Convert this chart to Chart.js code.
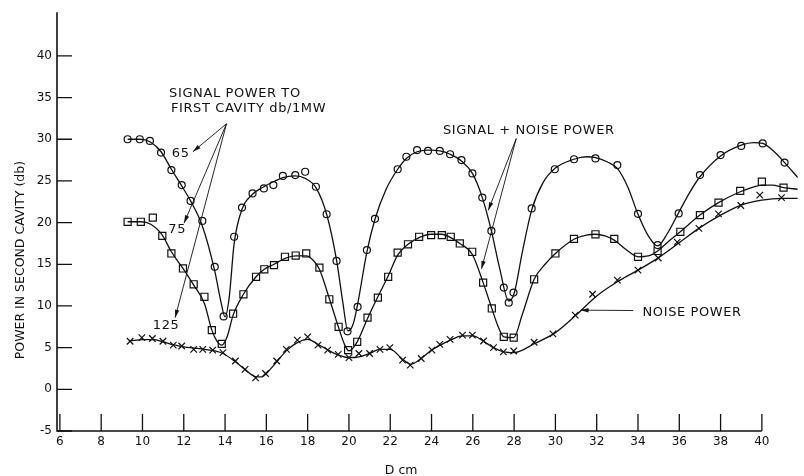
<!DOCTYPE html>
<html>
<head>
<meta charset="utf-8">
<script src="https://cdn.jsdelivr.net/npm/chart.js@4.4.1/dist/chart.umd.min.js"></script>
<style>
html,body{margin:0;padding:0;background:#fff;}
#wrap{width:804px;height:476px;position:relative;}
</style>
</head>
<body>
<div id="wrap"><canvas id="c"></canvas></div>
<script>
// ---- tick labels ----
const xTicks = [6,8,10,12,14,16,18,20,22,24,26,28,30,32,34,36,38,40];
const yTicks = [-5,0,5,10,15,20,25,30,35,40];

// ---- measured points: signal power 65 db/1MW (circles) ----
const s65X = [9.28,9.87,10.36,10.9,11.4,11.9,12.33,12.9,13.5,13.93,14.44,14.82,15.33,15.88,16.34,16.8,17.4,17.88,18.4,18.92,19.4,19.93,20.42,20.87,21.26,22.36,22.78,23.3,23.83,24.4,24.9,25.45,25.98,26.46,26.9,27.5,27.74,27.97,28.85,29.97,30.9,31.94,33.0,34.0,34.95,35.97,37.0,38.0,39.0,40.04,41.1];
const s65Y = [30.0,30.0,29.8,28.4,26.3,24.5,22.6,20.2,14.7,8.75,18.3,21.8,23.5,24.1,24.5,25.6,25.7,26.1,24.3,21.0,15.4,6.96,9.9,16.7,20.45,26.4,27.9,28.7,28.6,28.6,28.2,27.5,25.9,23.0,19.0,12.2,10.4,11.6,21.7,26.4,27.6,27.7,26.9,21.05,17.3,21.1,25.7,28.1,29.2,29.5,27.2];

// ---- measured points: signal power 75 (squares) ----
const s75X = [9.28,9.92,10.5,10.96,11.4,11.96,12.48,13.0,13.36,13.84,14.39,14.89,15.5,15.9,16.37,16.9,17.42,17.93,18.57,19.05,19.5,19.96,20.4,20.9,21.4,21.9,22.36,22.86,23.4,23.98,24.5,24.93,25.37,25.97,26.5,26.92,27.5,27.98,28.97,30.0,30.9,31.94,32.85,34.0,34.95,36.05,37.0,37.9,38.95,40.0,41.05];
const s75Y = [20.1,20.1,20.6,18.4,16.3,14.5,12.6,11.1,7.1,5.45,9.07,11.4,13.5,14.4,14.9,15.9,16.05,16.3,14.6,10.8,7.5,4.7,5.7,8.6,11.0,13.5,16.4,17.4,18.3,18.5,18.5,18.3,17.5,16.5,12.8,9.7,6.3,6.2,13.2,16.3,18.05,18.6,18.05,15.9,16.6,18.9,20.9,22.4,23.8,24.9,24.2];

// ---- measured points: noise power (crosses) ----
const nX = [9.4,9.97,10.48,10.99,11.49,11.9,12.48,12.92,13.4,13.9,14.5,14.97,15.48,15.96,16.5,16.97,17.5,18.0,18.5,18.97,19.48,20.0,20.48,21.0,21.5,21.98,22.6,22.97,23.5,24.02,24.4,24.9,25.5,25.98,26.52,27.0,27.48,27.98,28.97,29.88,30.96,31.8,33.0,34.0,34.98,35.9,36.95,37.9,38.98,39.9,40.95];
const nY = [5.77,6.2,6.1,5.77,5.3,5.2,4.8,4.8,4.7,4.4,3.4,2.4,1.37,1.9,3.4,4.8,5.9,6.3,5.3,4.7,4.2,3.8,4.3,4.3,4.8,5.0,3.5,2.9,3.7,4.7,5.4,6.0,6.5,6.5,5.8,5.0,4.5,4.6,5.65,6.65,8.9,11.4,13.1,14.3,15.75,17.65,19.3,21.05,22.05,23.3,23.0];

// ---- drawn smooth curves ----
const c65X = [9.28,9.87,10.36,10.9,11.4,11.9,12.33,12.9,13.5,13.8,14.0,14.2,14.44,14.82,15.33,15.88,16.34,16.8,17.4,17.88,18.4,18.92,19.4,19.7,19.95,20.2,20.42,20.87,21.26,21.8,22.36,22.78,23.3,23.83,24.4,24.9,25.45,25.98,26.46,26.9,27.3,27.74,28.0,28.4,28.85,29.4,29.97,30.9,31.5,31.94,32.5,33.0,33.5,34.0,34.5,34.95,35.4,35.97,36.5,37.0,38.0,39.0,39.6,40.04,40.6,41.1,41.74];
const c65Y = [30.0,30.0,29.7,28.5,26.4,24.4,22.6,19.6,14.2,10.5,8.7,11.0,17.5,21.6,23.4,24.3,24.9,25.4,25.6,25.3,24.2,21.0,15.5,10.5,7.0,7.8,10.2,16.5,20.4,24.0,26.4,27.7,28.5,28.7,28.6,28.2,27.4,25.9,23.0,19.0,14.5,10.6,11.5,16.5,21.5,24.8,26.5,27.6,27.9,27.8,27.3,26.5,24.3,21.0,18.4,17.2,18.6,21.2,23.6,25.5,28.0,29.3,29.6,29.5,28.5,27.2,25.4];
const c75X = [9.28,9.92,10.4,10.96,11.4,11.96,12.48,13.0,13.36,13.6,13.84,14.1,14.39,14.89,15.5,15.9,16.37,16.9,17.42,17.93,18.3,18.57,19.05,19.5,19.8,20.0,20.4,20.9,21.4,21.9,22.36,22.86,23.4,23.98,24.5,24.93,25.37,25.97,26.5,26.92,27.2,27.5,27.98,28.4,28.97,29.5,30.0,30.9,31.5,31.94,32.4,32.85,33.4,34.0,34.5,34.95,35.5,36.05,37.0,37.9,38.95,39.5,40.0,40.5,41.05,41.74];
const c75Y = [20.1,20.1,19.8,18.5,16.5,14.5,12.5,10.3,7.1,5.8,5.3,6.3,8.9,11.4,13.5,14.4,15.0,15.7,16.0,16.0,15.4,14.4,10.9,7.4,5.3,4.6,5.7,8.5,11.1,13.6,16.1,17.4,18.2,18.6,18.6,18.2,17.5,16.2,12.8,9.7,7.7,6.3,6.2,9.0,13.2,15.0,16.3,18.0,18.5,18.6,18.4,17.9,16.8,15.9,16.0,16.6,17.8,18.9,20.9,22.4,23.7,24.2,24.5,24.5,24.2,24.0];
const cNX = [9.4,10.0,10.5,11.0,11.5,12.0,12.5,13.0,13.5,13.9,14.5,15.0,15.5,15.8,16.0,16.5,17.0,17.5,18.0,18.5,19.0,19.5,20.0,20.5,21.0,21.5,22.0,22.6,23.0,23.5,24.0,24.5,25.0,25.5,26.0,26.5,27.0,27.5,28.0,29.0,30.0,31.0,32.0,33.0,34.0,35.0,36.0,37.0,38.0,39.0,40.0,41.0,41.74];
const cNY = [5.8,5.95,5.95,5.7,5.35,5.1,4.95,4.8,4.6,4.3,3.3,2.3,1.5,1.5,1.9,3.3,4.7,5.6,6.0,5.4,4.7,4.1,3.8,3.9,4.3,4.8,4.8,3.6,3.0,3.7,4.7,5.4,6.0,6.4,6.4,5.8,5.0,4.5,4.4,5.5,6.8,8.9,11.2,12.9,14.3,15.8,17.6,19.4,20.9,22.1,22.7,22.9,22.9];

// ---- annotations (anchors in data units) ----
const notes = [
  {t:'SIGNAL POWER TO', x:11.29, y:35.5},
  {t:'FIRST CAVITY db/1MW', x:11.38, y:33.7},
  {t:'65', x:11.42, y:28.3},
  {t:'75', x:11.25, y:19.2},
  {t:'125', x:10.5, y:7.6},
  {t:'SIGNAL + NOISE POWER', x:24.55, y:31.09},
  {t:'NOISE POWER', x:34.22, y:9.25}
];
const arrows = [
  {x0:14.07, y0:31.86, x1:12.44, y1:28.5},
  {x0:14.07, y0:31.86, x1:12.01, y1:19.93},
  {x0:14.07, y0:31.86, x1:11.58, y1:8.59},
  {x0:28.1, y0:30.07, x1:26.75, y1:21.48},
  {x0:28.1, y0:30.07, x1:26.42, y1:14.44},
  {x0:33.77, y0:9.45, x1:31.22, y1:9.5}
];
const yTitle = {t:'POWER IN SECOND CAVITY (db)', y:15.5};
const xTitle = {t:'D cm', x:22.53};

const pts = (xs, ys) => xs.map((x, i) => ({x: x, y: ys[i]}));
const INK = '#111';
const FONT = '"DejaVu Sans", sans-serif';

const curve = (xs, ys) => ({
  data: pts(xs, ys), showLine: true, pointRadius: 0, borderColor: INK,
  borderWidth: 1.3, cubicInterpolationMode: 'monotone', fill: false
});
const marks = (xs, ys, style, r) => ({
  data: pts(xs, ys), showLine: false, pointStyle: style, pointRadius: r,
  pointBorderColor: INK, pointBackgroundColor: '#fff', pointBorderWidth: 1.2
});

const decor = {
  id: 'decor',
  afterDatasetsDraw(chart) {
    const ctx = chart.ctx, xs = chart.scales.x, ys = chart.scales.y;
    const ca = chart.chartArea;
    ctx.save();
    ctx.strokeStyle = INK; ctx.fillStyle = INK;
    // axis lines
    ctx.lineWidth = 1.6;
    ctx.beginPath();
    ctx.moveTo(ca.left, ca.top); ctx.lineTo(ca.left, ca.bottom);
    ctx.lineTo(xs.getPixelForValue(xTicks[xTicks.length-1]), ca.bottom);
    ctx.stroke();
    // inward ticks
    ctx.lineWidth = 1.3;
    ctx.beginPath();
    yTicks.forEach(v => { const p = ys.getPixelForValue(v); ctx.moveTo(ca.left, p); ctx.lineTo(ca.left + 15, p); });
    xTicks.forEach(v => { const p = xs.getPixelForValue(v); ctx.moveTo(p, ca.bottom); ctx.lineTo(p, ca.bottom - 17); });
    ctx.stroke();
    // annotations
    ctx.font = '13px ' + FONT;
    ctx.letterSpacing = '0.6px';
    ctx.textBaseline = 'middle'; ctx.textAlign = 'left';
    notes.forEach(n => ctx.fillText(n.t, xs.getPixelForValue(n.x), ys.getPixelForValue(n.y)));
    ctx.letterSpacing = '0px';
    ctx.lineWidth = 0.9;
    arrows.forEach(a => {
      const x0 = xs.getPixelForValue(a.x0), y0 = ys.getPixelForValue(a.y0);
      const x1 = xs.getPixelForValue(a.x1), y1 = ys.getPixelForValue(a.y1);
      ctx.beginPath(); ctx.moveTo(x0, y0); ctx.lineTo(x1, y1); ctx.stroke();
      const ang = Math.atan2(y1 - y0, x1 - x0), L = 8, W = 2.2;
      ctx.beginPath();
      ctx.moveTo(x1, y1);
      ctx.lineTo(x1 - L*Math.cos(ang) + W*Math.sin(ang), y1 - L*Math.sin(ang) - W*Math.cos(ang));
      ctx.lineTo(x1 - L*Math.cos(ang) - W*Math.sin(ang), y1 - L*Math.sin(ang) + W*Math.cos(ang));
      ctx.closePath(); ctx.fill();
    });
    // axis titles
    ctx.font = '12.5px ' + FONT;
    ctx.textAlign = 'center';
    ctx.fillText(xTitle.t, xs.getPixelForValue(xTitle.x), ca.bottom + 40);
    ctx.translate(ca.left - 36, ys.getPixelForValue(yTitle.y));
    ctx.rotate(-Math.PI/2);
    ctx.fillText(yTitle.t, 0, 0);
    ctx.restore();
  }
};

new Chart(document.getElementById('c'), {
  type: 'scatter',
  data: {
    datasets: [
      curve(c65X, c65Y), curve(c75X, c75Y), curve(cNX, cNY),
      marks(s65X, s65Y, 'circle', 3.5),
      marks(s75X, s75Y, 'rect', 5),
      marks(nX, nY, 'crossRot', 4.6)
    ]
  },
  options: {
    responsive: true, maintainAspectRatio: false, animation: false,
    layout: {padding: {top: 10, right: 0, left: 0, bottom: 0}},
    plugins: {legend: {display: false}, tooltip: {enabled: false}},
    scales: {
      x: {
        type: 'linear', min: 5.86, max: 41.74,
        grid: {display: false, drawTicks: false}, border: {display: false},
        afterBuildTicks: s => { s.ticks = xTicks.map(v => ({value: v})); },
        afterFit: s => { s.height = 45; },
        ticks: {color: INK, font: {family: FONT, size: 12}, padding: 4, maxRotation: 0, autoSkip: false}
      },
      y: {
        type: 'linear', min: -5, max: 45.24,
        grid: {display: false, drawTicks: false}, border: {display: false},
        afterBuildTicks: s => { s.ticks = yTicks.map(v => ({value: v})); },
        afterFit: s => { s.width = 57; },
        ticks: {color: INK, font: {family: FONT, size: 12}, padding: 5, autoSkip: false}
      }
    }
  },
  plugins: [decor]
});
</script>
</body>
</html>
